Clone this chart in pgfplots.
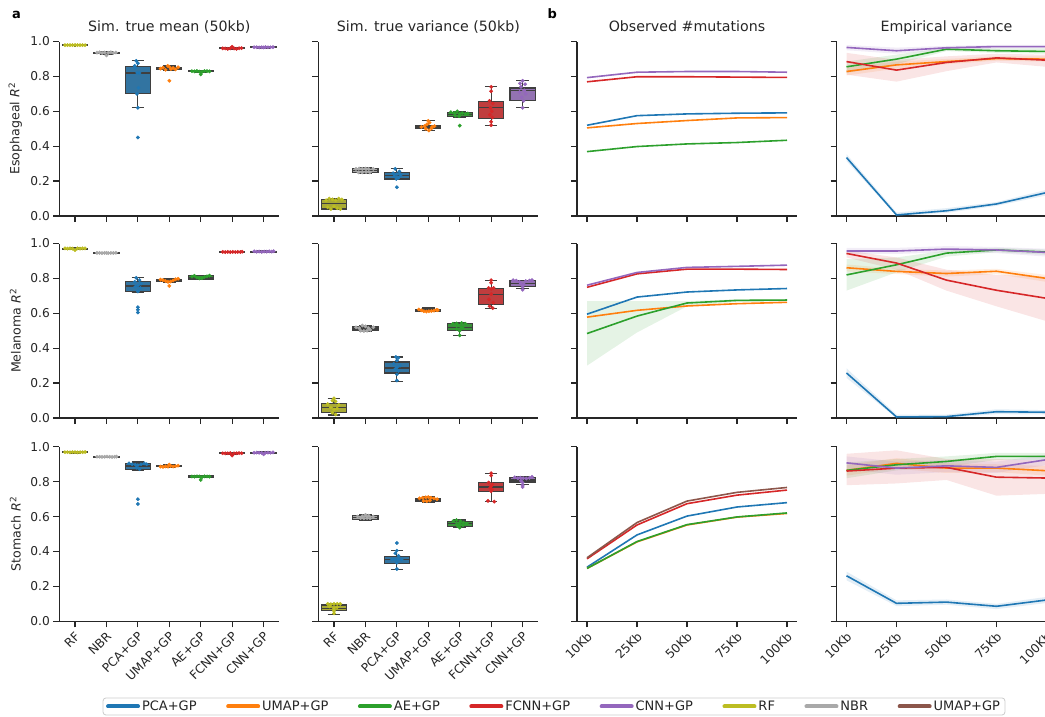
\documentclass[border=0pt]{standalone}
\usepackage{fontspec}
\setmainfont{DejaVu Sans}
\usepackage{pgfplots}
\pgfplotsset{compat=1.18}

\definecolor{tabblue}{HTML}{1F77B4}
\definecolor{taborange}{HTML}{FF7F0E}
\definecolor{tabgreen}{HTML}{2CA02C}
\definecolor{tabred}{HTML}{D62728}
\definecolor{tabpurple}{HTML}{9467BD}
\definecolor{tabolive}{HTML}{BCBD22}
\definecolor{nbrgray}{HTML}{A9A9A9}
\definecolor{tabbrown}{HTML}{8C564B}
\definecolor{dblue}{HTML}{3274A1}
\definecolor{dorange}{HTML}{E1812C}
\definecolor{dgreen}{HTML}{3A923A}
\definecolor{dred}{HTML}{C03D3E}
\definecolor{dpurple}{HTML}{9372B2}
\definecolor{dolive}{HTML}{A9AA35}
\definecolor{dgray}{HTML}{A9A9A9}
\definecolor{boxedge}{HTML}{3F3F3F}
\definecolor{spine}{HTML}{262626}
\definecolor{textc}{HTML}{262626}
\definecolor{legendgray}{HTML}{CCCCCC}

\newcommand{\fs}{\fontsize{12.2pt}{14pt}\selectfont}
\newcommand{\fst}{\fontsize{14.2pt}{16pt}\selectfont}
\newcommand{\fsl}{\fontsize{12.6pt}{15pt}\selectfont}
\newcommand{\fsg}{\fontsize{13pt}{15pt}\selectfont}

% box: position, lower whisker, lower quartile, median, upper quartile, upper whisker, fill
\newcommand{\bx}[7]{%
\pgfmathsetmacro\bxxl{#1-0.4}\pgfmathsetmacro\bxxr{#1+0.4}%
\pgfmathsetmacro\bxcl{#1-0.2}\pgfmathsetmacro\bxcr{#1+0.2}%
\addplot[draw=boxedge, line width=1.2pt] coordinates {(#1,#2)(#1,#3)};
\addplot[draw=boxedge, line width=1.2pt] coordinates {(#1,#5)(#1,#6)};
\addplot[draw=boxedge, line width=1.2pt] coordinates {(\bxcl,#2)(\bxcr,#2)};
\addplot[draw=boxedge, line width=1.2pt] coordinates {(\bxcl,#6)(\bxcr,#6)};
\addplot[draw=boxedge, fill=#7, line width=1.2pt] coordinates {(\bxxl,#3)(\bxxr,#3)(\bxxr,#5)(\bxxl,#5)} -- cycle;
\addplot[draw=boxedge, line width=1.2pt] coordinates {(\bxxl,#4)(\bxxr,#4)};
}
\newcommand{\pts}[2]{\addplot[only marks, mark=*, mark size=1.7pt, color=#1] coordinates {#2};}
\newcommand{\lin}[2]{\addplot[color=#1, line width=1.6pt] coordinates {#2};}
\newcommand{\band}[2]{\addplot[fill=#1, fill opacity=0.12, draw=none] coordinates {#2};}

\pgfplotsset{
  base/.style={
    scale only axis, width=220pt, height=174.5pt, anchor=south west,
    ymin=0, ymax=1, ytick={0,0.2,0.4,0.6,0.8,1.0},
    axis lines=left, axis line style={-, line width=1.25pt, color=spine},
    tick align=outside, major tick length=6pt,
    tick style={line width=1.25pt, color=spine},
    ticklabel style={font=\fs, text=textc},
    yticklabel style={/pgf/number format/.cd, fixed, fixed zerofill, precision=1, assume math mode=true},
    title style={at={(0.5,1)}, anchor=base, yshift=4pt, font=\fst, text=textc},
    ylabel style={at={(axis description cs:-0.2,0.5)}, anchor=center, font=\fsl, text=textc},
  },
  boxax/.style={base, xmin=-0.5, xmax=6.5, xtick={0,1,2,3,4,5,6}},
  lineax/.style={base, xmin=-0.2, xmax=4.2, xtick={0,1,2,3,4}},
  nox/.style={xticklabels={}},
  noy/.style={yticklabels={}},
  boxlab/.style={xticklabels={RF,NBR,PCA+GP,UMAP+GP,AE+GP,FCNN+GP,CNN+GP}, xticklabel style={rotate=45, anchor=north east, xshift=-1pt, inner sep=2pt}},
  linelab/.style={xticklabels={10Kb,25Kb,50Kb,75Kb,100Kb}, xticklabel style={rotate=45, anchor=north east, xshift=-1pt, inner sep=2pt}},
}

\begin{document}
\begin{tikzpicture}[font=\fs]

% ================= ROW 1 : Esophageal =================
\begin{axis}[boxax, nox, at={(59.3pt,-216pt)}, title={Sim. true mean (50kb)}, ylabel={Esophageal \textit{R}\textsuperscript{2}}]
\bx{0}{0.975}{0.977}{0.979}{0.981}{0.983}{dolive}
\bx{1}{0.925}{0.932}{0.935}{0.938}{0.942}{dgray}
\bx{2}{0.62}{0.70}{0.82}{0.857}{0.889}{dblue}
\bx{3}{0.835}{0.838}{0.845}{0.852}{0.86}{dorange}
\bx{4}{0.822}{0.826}{0.829}{0.831}{0.834}{dgreen}
\bx{5}{0.955}{0.958}{0.961}{0.963}{0.966}{dred}
\bx{6}{0.963}{0.965}{0.967}{0.968}{0.970}{dpurple}
\pts{tabolive}{(-0.32,0.979)(-0.24,0.979)(-0.16,0.979)(-0.08,0.979)(0,0.980)(0.08,0.979)(0.16,0.979)(0.24,0.979)(0.32,0.979)}
\pts{nbrgray}{(0.7,0.936)(0.78,0.938)(0.86,0.934)(0.94,0.937)(1.0,0.92)(1.06,0.935)(1.14,0.938)(1.22,0.934)(1.3,0.937)}
\pts{tabblue}{(1.95,0.889)(2.0,0.875)(1.9,0.86)(2.05,0.82)(1.98,0.82)(2.02,0.735)(1.97,0.70)(2,0.62)(2,0.45)(1.92,0.85)}
\pts{taborange}{(2.72,0.845)(2.8,0.85)(2.88,0.838)(2.95,0.86)(3.0,0.855)(3.05,0.842)(3.12,0.848)(3.2,0.84)(3.28,0.852)(3.0,0.775)}
\pts{tabgreen}{(3.72,0.83)(3.8,0.829)(3.88,0.831)(3.96,0.828)(4,0.812)(4.04,0.826)(4.12,0.831)(4.2,0.83)(4.28,0.829)}
\pts{tabred}{(4.7,0.961)(4.78,0.96)(4.86,0.958)(4.94,0.961)(5,0.97)(5.06,0.96)(5.14,0.958)(5.22,0.961)(5.3,0.962)}
\pts{tabpurple}{(5.7,0.967)(5.78,0.967)(5.86,0.966)(5.94,0.967)(6,0.966)(6.06,0.968)(6.14,0.967)(6.22,0.967)(6.3,0.968)}
\end{axis}

\begin{axis}[boxax, nox, noy, at={(318.3pt,-216pt)}, title={Sim. true variance (50kb)}]
\bx{0}{0.035}{0.04}{0.07}{0.095}{0.10}{dolive}
\bx{1}{0.245}{0.247}{0.26}{0.272}{0.275}{dgray}
\bx{2}{0.21}{0.212}{0.232}{0.25}{0.27}{dblue}
\bx{3}{0.49}{0.503}{0.51}{0.52}{0.545}{dorange}
\bx{4}{0.565}{0.568}{0.58}{0.593}{0.60}{dgreen}
\bx{5}{0.518}{0.56}{0.62}{0.655}{0.74}{dred}
\bx{6}{0.62}{0.66}{0.72}{0.733}{0.775}{dpurple}
\pts{tabolive}{(-0.25,0.09)(-0.15,0.10)(-0.05,0.095)(0.05,0.09)(0.15,0.1)(0.25,0.095)(-0.2,0.05)(-0.1,0.04)(0,0.055)(0.1,0.045)(0.2,0.04)}
\pts{nbrgray}{(0.7,0.27)(0.8,0.272)(0.9,0.27)(1.0,0.272)(1.1,0.27)(1.25,0.27)(0.78,0.25)(0.9,0.25)(1.02,0.252)(1.14,0.25)}
\pts{tabblue}{(1.95,0.27)(2.08,0.255)(1.88,0.245)(2.0,0.24)(2.12,0.235)(1.92,0.228)(2.05,0.22)(1.98,0.212)(2,0.165)}
\pts{taborange}{(2.78,0.51)(2.88,0.515)(2.96,0.525)(3.0,0.545)(3.04,0.535)(3.12,0.51)(3.2,0.515)(2.92,0.5)(3.02,0.49)(3.1,0.502)}
\pts{tabgreen}{(3.72,0.595)(3.82,0.59)(3.92,0.6)(4.0,0.585)(4.08,0.59)(4.18,0.585)(4.26,0.588)(3.86,0.575)(3.98,0.572)(4,0.518)}
\pts{tabred}{(5,0.74)(5,0.715)(4.95,0.66)(5.05,0.645)(4.98,0.62)(5.02,0.6)(4.96,0.58)(5.04,0.565)(5,0.54)(5,0.52)}
\pts{tabpurple}{(6,0.775)(5.92,0.76)(6.08,0.755)(5.95,0.74)(6.05,0.72)(5.9,0.71)(6.1,0.70)(5.97,0.68)(6.03,0.66)(6,0.62)}
\end{axis}

\begin{axis}[lineax, nox, noy, at={(577pt,-216pt)}, title={Observed \#mutations}]
\lin{tabblue}{(0,0.52)(1,0.575)(2,0.585)(3,0.589)(4,0.591)}
\lin{taborange}{(0,0.505)(1,0.53)(2,0.547)(3,0.562)(4,0.564)}
\lin{tabgreen}{(0,0.369)(1,0.398)(2,0.413)(3,0.421)(4,0.434)}
\lin{tabred}{(0,0.769)(1,0.798)(2,0.798)(3,0.796)(4,0.794)}
\lin{tabpurple}{(0,0.793)(1,0.824)(2,0.828)(3,0.828)(4,0.824)}
\end{axis}

\begin{axis}[lineax, nox, noy, at={(836.5pt,-216pt)}, title={Empirical variance}]
\band{tabblue}{(0,0.355)(1,0.02)(2,0.045)(3,0.08)(4,0.15)(4,0.118)(3,0.058)(2,0.018)(1,0)(0,0.315)}
\band{taborange}{(0,0.85)(1,0.885)(2,0.9)(3,0.915)(4,0.915)(4,0.885)(3,0.89)(2,0.87)(1,0.845)(0,0.805)}
\band{tabgreen}{(0,0.885)(1,0.925)(2,0.965)(3,0.96)(4,0.96)(4,0.93)(3,0.935)(2,0.945)(1,0.87)(0,0.82)}
\band{tabred}{(0,0.935)(1,0.895)(2,0.915)(3,0.93)(4,0.924)(4,0.855)(3,0.88)(2,0.83)(1,0.77)(0,0.81)}
\band{tabpurple}{(0,0.98)(1,0.965)(2,0.975)(3,0.98)(4,0.98)(4,0.96)(3,0.96)(2,0.95)(1,0.93)(0,0.95)}
\lin{tabblue}{(0,0.335)(1,0.006)(2,0.03)(3,0.069)(4,0.134)}
\lin{taborange}{(0,0.828)(1,0.866)(2,0.885)(3,0.902)(4,0.899)}
\lin{tabgreen}{(0,0.855)(1,0.899)(2,0.956)(3,0.947)(4,0.943)}
\lin{tabred}{(0,0.885)(1,0.836)(2,0.88)(3,0.906)(4,0.893)}
\lin{tabpurple}{(0,0.966)(1,0.947)(2,0.964)(3,0.971)(4,0.971)}
\end{axis}

% ================= ROW 2 : Melanoma =================
\begin{axis}[boxax, nox, at={(59.3pt,-418pt)}, ylabel={Melanoma \textit{R}\textsuperscript{2}}]
\bx{0}{0.965}{0.968}{0.971}{0.973}{0.976}{dolive}
\bx{1}{0.943}{0.945}{0.946}{0.947}{0.948}{dgray}
\bx{2}{0.72}{0.726}{0.757}{0.78}{0.803}{dblue}
\bx{3}{0.775}{0.78}{0.787}{0.795}{0.80}{dorange}
\bx{4}{0.795}{0.797}{0.807}{0.815}{0.818}{dgreen}
\bx{5}{0.948}{0.95}{0.952}{0.954}{0.956}{dred}
\bx{6}{0.949}{0.951}{0.953}{0.955}{0.958}{dpurple}
\pts{tabolive}{(-0.32,0.972)(-0.24,0.971)(-0.16,0.972)(-0.08,0.971)(0,0.962)(0.08,0.972)(0.16,0.971)(0.24,0.972)(0.32,0.972)}
\pts{nbrgray}{(0.7,0.946)(0.78,0.946)(0.86,0.945)(0.94,0.946)(1.0,0.946)(1.06,0.945)(1.14,0.946)(1.22,0.946)(1.3,0.947)}
\pts{tabblue}{(1.95,0.803)(2.05,0.79)(1.9,0.78)(2.1,0.77)(2.0,0.76)(1.92,0.752)(2.08,0.745)(2,0.73)(2,0.725)(2,0.635)(2,0.62)(2,0.605)}
\pts{taborange}{(2.72,0.793)(2.8,0.79)(2.88,0.785)(2.96,0.78)(3.04,0.782)(3.12,0.788)(3.2,0.795)(3.28,0.798)(3,0.757)}
\pts{tabgreen}{(3.72,0.81)(3.8,0.815)(3.88,0.805)(3.96,0.80)(4.04,0.802)(4.12,0.808)(4.2,0.812)(4.28,0.816)}
\pts{tabred}{(4.7,0.952)(4.78,0.951)(4.86,0.952)(4.94,0.951)(5.02,0.952)(5.1,0.951)(5.18,0.952)(5.26,0.951)(5.32,0.953)}
\pts{tabpurple}{(5.7,0.955)(5.78,0.953)(5.86,0.954)(5.94,0.952)(6.02,0.954)(6.1,0.953)(6.18,0.955)(6.26,0.954)(6.32,0.956)}
\end{axis}

\begin{axis}[boxax, nox, noy, at={(318.3pt,-418pt)}]
\bx{0}{0.017}{0.033}{0.06}{0.085}{0.113}{dolive}
\bx{1}{0.495}{0.50}{0.51}{0.522}{0.53}{dgray}
\bx{2}{0.21}{0.258}{0.286}{0.321}{0.35}{dblue}
\bx{3}{0.61}{0.612}{0.615}{0.622}{0.63}{dorange}
\bx{4}{0.473}{0.503}{0.52}{0.54}{0.545}{dgreen}
\bx{5}{0.627}{0.65}{0.71}{0.743}{0.788}{dred}
\bx{6}{0.74}{0.753}{0.77}{0.786}{0.79}{dpurple}
\pts{tabolive}{(0,0.113)(-0.05,0.1)(0.05,0.095)(-0.2,0.08)(0.15,0.075)(-0.1,0.06)(0.1,0.055)(0,0.05)(-0.05,0.03)(0.05,0.02)}
\pts{nbrgray}{(0.7,0.52)(0.8,0.515)(0.9,0.53)(1,0.525)(1.1,0.515)(1.25,0.52)(0.85,0.5)(0.95,0.498)(1.05,0.5)(1.15,0.505)}
\pts{tabblue}{(1.97,0.35)(2.05,0.345)(2,0.33)(1.9,0.31)(2.1,0.3)(2,0.29)(1.95,0.28)(2.05,0.27)(2,0.25)(2,0.215)}
\pts{taborange}{(2.7,0.622)(2.78,0.617)(2.86,0.612)(2.94,0.61)(3.02,0.612)(3.1,0.613)(3.18,0.615)(3.26,0.62)(3.3,0.618)}
\pts{tabgreen}{(3.78,0.54)(3.9,0.542)(4.06,0.545)(4.18,0.54)(3.95,0.53)(4.05,0.52)(3.9,0.51)(4.1,0.515)(4,0.50)(4,0.473)}
\pts{tabred}{(5,0.79)(5,0.775)(4.92,0.745)(5.08,0.745)(5,0.74)(5,0.71)(4.93,0.68)(5.07,0.66)(4.95,0.64)(5.05,0.63)}
\pts{tabpurple}{(5.7,0.79)(5.8,0.787)(5.9,0.78)(6.1,0.785)(6.22,0.787)(6.3,0.79)(5.95,0.77)(6.05,0.765)(6,0.75)(6,0.735)}
\end{axis}

\begin{axis}[lineax, nox, noy, at={(577pt,-418pt)}]
\band{tabgreen}{(0,0.67)(1,0.67)(2,0.67)(3,0.68)(4,0.682)(4,0.67)(3,0.665)(2,0.64)(1,0.49)(0,0.30)}
\lin{tabblue}{(0,0.595)(1,0.693)(2,0.722)(3,0.734)(4,0.742)}
\lin{taborange}{(0,0.578)(1,0.617)(2,0.642)(3,0.655)(4,0.663)}
\lin{tabgreen}{(0,0.484)(1,0.584)(2,0.659)(3,0.674)(4,0.676)}
\lin{tabred}{(0,0.749)(1,0.826)(2,0.853)(3,0.853)(4,0.851)}
\lin{tabpurple}{(0,0.761)(1,0.834)(2,0.863)(3,0.869)(4,0.876)}
\end{axis}

\begin{axis}[lineax, nox, noy, at={(836.5pt,-418pt)}]
\band{tabblue}{(0,0.285)(1,0.02)(2,0.02)(3,0.05)(4,0.045)(4,0.02)(3,0.022)(2,0)(1,0)(0,0.23)}
\band{taborange}{(0,0.88)(1,0.855)(2,0.845)(3,0.855)(4,0.82)(4,0.78)(3,0.825)(2,0.81)(1,0.825)(0,0.84)}
\band{tabgreen}{(0,0.91)(1,0.92)(2,0.96)(3,0.975)(4,0.965)(4,0.935)(3,0.95)(2,0.925)(1,0.835)(0,0.73)}
\band{tabred}{(0,0.96)(1,0.92)(2,0.85)(3,0.82)(4,0.81)(4,0.555)(3,0.64)(2,0.73)(1,0.85)(0,0.92)}
\band{tabpurple}{(0,0.975)(1,0.975)(2,0.985)(3,0.98)(4,0.97)(4,0.925)(3,0.945)(2,0.95)(1,0.94)(0,0.94)}
\lin{tabblue}{(0,0.258)(1,0.006)(2,0.008)(3,0.036)(4,0.033)}
\lin{taborange}{(0,0.861)(1,0.84)(2,0.828)(3,0.841)(4,0.80)}
\lin{tabgreen}{(0,0.82)(1,0.878)(2,0.945)(3,0.963)(4,0.951)}
\lin{tabred}{(0,0.943)(1,0.888)(2,0.79)(3,0.732)(4,0.686)}
\lin{tabpurple}{(0,0.957)(1,0.957)(2,0.968)(3,0.963)(4,0.949)}
\end{axis}

% ================= ROW 3 : Stomach =================
\begin{axis}[boxax, boxlab, at={(59.3pt,-621.3pt)}, ylabel={Stomach \textit{R}\textsuperscript{2}}]
\bx{0}{0.965}{0.967}{0.969}{0.970}{0.972}{dolive}
\bx{1}{0.940}{0.941}{0.943}{0.944}{0.946}{dgray}
\bx{2}{0.865}{0.869}{0.89}{0.903}{0.913}{dblue}
\bx{3}{0.882}{0.885}{0.889}{0.893}{0.90}{dorange}
\bx{4}{0.822}{0.826}{0.83}{0.833}{0.836}{dgreen}
\bx{5}{0.957}{0.96}{0.963}{0.966}{0.968}{dred}
\bx{6}{0.96}{0.963}{0.965}{0.968}{0.970}{dpurple}
\pts{tabolive}{(-0.32,0.969)(-0.24,0.969)(-0.16,0.968)(-0.08,0.969)(0,0.969)(0.08,0.968)(0.16,0.969)(0.24,0.969)(0.32,0.97)}
\pts{nbrgray}{(0.7,0.943)(0.78,0.943)(0.86,0.942)(0.94,0.943)(1.02,0.944)(1.1,0.943)(1.18,0.942)(1.26,0.943)(1.32,0.944)}
\pts{tabblue}{(1.72,0.905)(1.82,0.9)(1.92,0.898)(2,0.895)(2.1,0.9)(2.2,0.905)(2.28,0.9)(1.95,0.88)(2.05,0.872)(2,0.70)(2,0.672)}
\pts{taborange}{(2.72,0.887)(2.8,0.885)(2.88,0.888)(2.96,0.886)(3.0,0.898)(3.04,0.89)(3.12,0.887)(3.2,0.889)(3.28,0.892)}
\pts{tabgreen}{(3.72,0.83)(3.8,0.829)(3.88,0.831)(3.96,0.83)(4,0.81)(4.04,0.826)(4.12,0.831)(4.2,0.83)(4.28,0.829)}
\pts{tabred}{(4.7,0.963)(4.78,0.962)(4.86,0.963)(4.94,0.964)(5,0.95)(5.06,0.962)(5.14,0.963)(5.22,0.964)(5.3,0.963)}
\pts{tabpurple}{(5.7,0.966)(5.78,0.967)(5.86,0.966)(5.94,0.965)(6,0.957)(6.06,0.966)(6.14,0.967)(6.22,0.966)(6.3,0.968)}
\end{axis}

\begin{axis}[boxax, boxlab, noy, at={(318.3pt,-621.3pt)}]
\bx{0}{0.04}{0.061}{0.075}{0.093}{0.10}{dolive}
\bx{1}{0.58}{0.583}{0.595}{0.606}{0.612}{dgray}
\bx{2}{0.297}{0.331}{0.355}{0.373}{0.406}{dblue}
\bx{3}{0.683}{0.685}{0.695}{0.705}{0.712}{dorange}
\bx{4}{0.537}{0.545}{0.56}{0.573}{0.58}{dgreen}
\bx{5}{0.686}{0.743}{0.77}{0.796}{0.849}{dred}
\bx{6}{0.785}{0.798}{0.81}{0.825}{0.832}{dpurple}
\pts{tabolive}{(-0.2,0.1)(-0.1,0.098)(0,0.1)(0.1,0.1)(0.2,0.1)(-0.15,0.085)(0,0.075)(0.1,0.08)(0,0.06)(0,0.045)}
\pts{nbrgray}{(0.75,0.6)(0.85,0.592)(0.95,0.59)(1.05,0.592)(1.15,0.59)(1.25,0.6)(0.9,0.602)(1.1,0.605)(1,0.61)}
\pts{tabblue}{(2,0.449)(2,0.405)(1.95,0.39)(2.05,0.375)(1.85,0.355)(1.95,0.355)(2.05,0.355)(2.15,0.355)(2,0.335)(2,0.30)}
\pts{taborange}{(2.72,0.705)(2.82,0.708)(2.92,0.71)(3,0.712)(3.08,0.708)(3.18,0.705)(3.28,0.7)(2.85,0.69)(2.95,0.688)(3.05,0.692)}
\pts{tabgreen}{(3.8,0.575)(3.9,0.58)(4.02,0.575)(4.12,0.565)(4.22,0.56)(3.9,0.555)(4.0,0.56)(4.1,0.55)(3.95,0.545)(4,0.537)}
\pts{tabred}{(5,0.849)(5,0.835)(4.92,0.795)(5.04,0.785)(5.0,0.775)(4.97,0.765)(5.03,0.755)(4.9,0.69)(5.1,0.686)(5,0.745)}
\pts{tabpurple}{(5.75,0.825)(5.85,0.82)(5.93,0.823)(6.02,0.82)(6.12,0.818)(6.22,0.822)(6.3,0.828)(5.95,0.805)(6.0,0.795)(6.0,0.78)(6,0.77)}
\end{axis}

\begin{axis}[lineax, linelab, noy, at={(577pt,-621.3pt)}]
\lin{tabblue}{(0,0.31)(1,0.495)(2,0.603)(3,0.655)(4,0.68)}
\lin{taborange}{(0,0.303)(1,0.455)(2,0.552)(3,0.597)(4,0.618)}
\lin{tabgreen}{(0,0.303)(1,0.457)(2,0.554)(3,0.598)(4,0.621)}
\lin{tabred}{(0,0.358)(1,0.552)(2,0.674)(3,0.723)(4,0.752)}
\lin{tabbrown}{(0,0.364)(1,0.566)(2,0.689)(3,0.739)(4,0.767)}
\end{axis}

\begin{axis}[lineax, linelab, noy, at={(836.5pt,-621.3pt)}]
\band{tabblue}{(0,0.285)(1,0.12)(2,0.125)(3,0.1)(4,0.14)(4,0.105)(3,0.07)(2,0.095)(1,0.087)(0,0.235)}
\band{taborange}{(0,0.895)(1,0.935)(2,0.905)(3,0.9)(4,0.89)(4,0.835)(3,0.855)(2,0.85)(1,0.875)(0,0.835)}
\band{tabgreen}{(0,0.91)(1,0.93)(2,0.945)(3,0.965)(4,0.965)(4,0.925)(3,0.925)(2,0.885)(1,0.865)(0,0.82)}
\band{tabred}{(0,0.96)(1,0.98)(2,0.93)(3,0.93)(4,0.92)(4,0.73)(3,0.72)(2,0.81)(1,0.79)(0,0.78)}
\band{tabpurple}{(0,0.945)(1,0.915)(2,0.925)(3,0.915)(4,0.955)(4,0.895)(3,0.85)(2,0.855)(1,0.84)(0,0.87)}
\lin{tabblue}{(0,0.261)(1,0.103)(2,0.11)(3,0.086)(4,0.122)}
\lin{taborange}{(0,0.865)(1,0.905)(2,0.878)(3,0.878)(4,0.863)}
\lin{tabgreen}{(0,0.865)(1,0.897)(2,0.916)(3,0.945)(4,0.945)}
\lin{tabred}{(0,0.861)(1,0.878)(2,0.882)(3,0.826)(4,0.821)}
\lin{tabpurple}{(0,0.908)(1,0.878)(2,0.891)(3,0.882)(4,0.926)}
\end{axis}

% ================= Legend =================
\begin{axis}[hide axis, scale only axis, width=2pt, height=2pt, at={(554pt,-697.5pt)}, anchor=center,
  xmin=0, xmax=1, ymin=0, ymax=1,
  legend columns=8,
  legend style={at={(0.5,0.5)}, anchor=north, draw=legendgray, line width=0.8pt, rounded corners=3pt,
    font=\fsg, text=textc, inner xsep=3pt, inner ysep=1pt,
    /tikz/every even column/.append style={column sep=27.5pt}},
  legend image code/.code={\draw[#1, line width=4pt, line cap=round] (0pt,0pt) -- (30pt,0pt);}]
\addlegendimage{tabblue}\addlegendentry{PCA+GP}
\addlegendimage{taborange}\addlegendentry{UMAP+GP}
\addlegendimage{tabgreen}\addlegendentry{AE+GP}
\addlegendimage{tabred}\addlegendentry{FCNN+GP}
\addlegendimage{tabpurple}\addlegendentry{CNN+GP}
\addlegendimage{tabolive}\addlegendentry{RF}
\addlegendimage{nbrgray}\addlegendentry{NBR}
\addlegendimage{tabbrown}\addlegendentry{UMAP+GP}
\end{axis}

\node[font=\bfseries\fontsize{13pt}{15pt}\selectfont, text=black, anchor=base west, inner sep=0pt] at (12pt,-18.3pt) {a};
\node[font=\bfseries\fontsize{13pt}{15pt}\selectfont, text=black, anchor=base west, inner sep=0pt] at (547.5pt,-18.3pt) {b};

\pgfresetboundingbox
\useasboundingbox (0pt,0pt) rectangle (1045pt,-717pt);
\end{tikzpicture}
\end{document}
